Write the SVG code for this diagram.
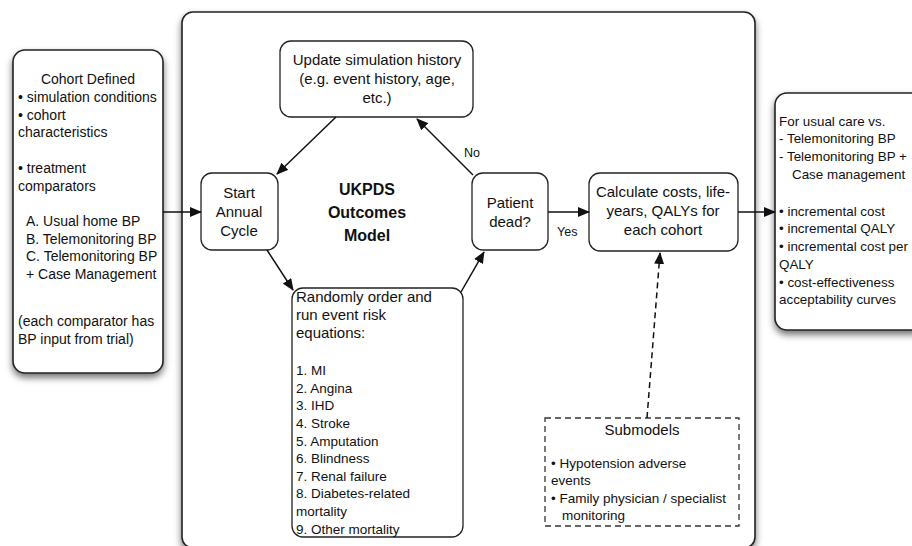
<svg xmlns="http://www.w3.org/2000/svg" width="912" height="546" viewBox="0 0 912 546">
<defs>
<style>
text{font-family:"Liberation Sans",Arial,Helvetica,sans-serif;fill:#111}
.box{fill:#fff;stroke:#222;stroke-width:1.6}
.node{fill:#fff;stroke:#222;stroke-width:1.3}
.t14{font-size:14px}
.tr{font-size:13.4px}
.t15{font-size:15px}
.t13{font-size:13.5px}
.lbl{font-size:12.5px}
.c{text-anchor:middle}
.edge{stroke:#111;stroke-width:1.5;fill:none}
.dash{stroke-dasharray:6,4}
</style>
<filter id="sh" x="-10%" y="-10%" width="125%" height="125%">
<feDropShadow dx="0" dy="4" stdDeviation="3.5" flood-color="#000" flood-opacity="0.55"/>
</filter>
<marker id="ah" viewBox="0 0 12 10" refX="11" refY="5" markerWidth="12" markerHeight="10" markerUnits="userSpaceOnUse" orient="auto">
<path d="M0,0 L12,5 L0,10 Z" fill="#111"/>
</marker>
</defs>

<g id="model-frame">
<rect class="box" x="182" y="12" width="573" height="536" rx="11" filter="url(#sh)"/>
<text class="c" x="367" y="195" style="font-size:16px;font-weight:bold">UKPDS</text>
<text class="c" x="367" y="218" style="font-size:16px;font-weight:bold">Outcomes</text>
<text class="c" x="367" y="241" style="font-size:16px;font-weight:bold">Model</text>
</g>

<g id="cohort">
<rect class="box" x="13" y="50" width="150" height="323" rx="12" filter="url(#sh)"/>
<text class="t14 c" x="88" y="84">Cohort Defined</text>
<text class="t14" x="18" y="102">• simulation conditions</text>
<text class="t14" x="18" y="120">• cohort</text>
<text class="t14" x="18" y="137">characteristics</text>
<text class="t14" x="18" y="173">• treatment</text>
<text class="t14" x="18" y="191">comparators</text>
<text class="t14" x="26" y="226">A. Usual home BP</text>
<text class="t14" x="26" y="244">B. Telemonitoring BP</text>
<text class="t14" x="26" y="261">C. Telemonitoring BP</text>
<text class="t14" x="26" y="279">+ Case Management</text>
<text class="t14" x="18" y="326">(each comparator has</text>
<text class="t14" x="18" y="344">BP input from trial)</text>
</g>

<g id="results">
<rect class="box" x="775" y="93" width="150" height="237" rx="12" filter="url(#sh)"/>
<text class="tr" x="779" y="126">For usual care vs.</text>
<text class="tr" x="779" y="143">- Telemonitoring BP</text>
<text class="tr" x="779" y="161">- Telemonitoring BP +</text>
<text class="tr" x="792" y="179">Case management</text>
<text class="tr" x="779" y="216">• incremental cost</text>
<text class="tr" x="779" y="233">• incremental QALY</text>
<text class="tr" x="779" y="251">• incremental cost per</text>
<text class="tr" x="779" y="269">QALY</text>
<text class="tr" x="779" y="287">• cost-effectiveness</text>
<text class="tr" x="779" y="304">acceptability curves</text>
</g>

<g id="update">
<rect class="node" x="280" y="41" width="193" height="76" rx="11"/>
<text class="t15 c" x="377" y="65">Update simulation history</text>
<text class="t15 c" x="377" y="84">(e.g. event history, age,</text>
<text class="t15 c" x="377" y="103">etc.)</text>
</g>

<g id="start">
<rect class="node" x="201" y="173" width="77" height="77" rx="11"/>
<text class="t15 c" x="239" y="198">Start</text>
<text class="t15 c" x="239" y="217">Annual</text>
<text class="t15 c" x="239" y="236">Cycle</text>
</g>

<g id="patient">
<rect class="node" x="472" y="173" width="76" height="77" rx="11"/>
<text class="t15 c" x="510" y="208">Patient</text>
<text class="t15 c" x="510" y="227">dead?</text>
</g>

<g id="calculate">
<rect class="node" x="589" y="173" width="149" height="78" rx="11"/>
<text class="t15 c" x="663" y="197">Calculate costs, life-</text>
<text class="t15 c" x="663" y="216">years, QALYs for</text>
<text class="t15 c" x="663" y="235">each cohort</text>
</g>

<g id="risk-equations">
<rect class="node" x="292" y="288" width="171" height="249" rx="11"/>
<text class="t15" x="296" y="302">Randomly order and</text>
<text class="t15" x="296" y="320">run event risk</text>
<text class="t15" x="296" y="338">equations:</text>
<text class="t13" x="296" y="375">1. MI</text>
<text class="t13" x="296" y="393">2. Angina</text>
<text class="t13" x="296" y="410">3. IHD</text>
<text class="t13" x="296" y="428">4. Stroke</text>
<text class="t13" x="296" y="446">5. Amputation</text>
<text class="t13" x="296" y="463">6. Blindness</text>
<text class="t13" x="296" y="481">7. Renal failure</text>
<text class="t13" x="296" y="498">8. Diabetes-related</text>
<text class="t13" x="296" y="516">mortality</text>
<text class="t13" x="296" y="534">9. Other mortality</text>
</g>

<g id="submodels">
<rect x="545" y="418" width="194" height="108" fill="#fff" stroke="#333" stroke-width="1.3" stroke-dasharray="6,4"/>
<text class="t15 c" x="642" y="435">Submodels</text>
<text class="t13" x="551" y="468">• Hypotension adverse</text>
<text class="t13" x="551" y="485">events</text>
<text class="t13" x="551" y="503">• Family physician / specialist</text>
<text class="t13" x="562" y="520">monitoring</text>
</g>

<g id="connectors">
<line class="edge" x1="163" y1="212" x2="201" y2="212" marker-end="url(#ah)"/>
<line class="edge" x1="336" y1="117" x2="277" y2="174" marker-end="url(#ah)"/>
<line class="edge" x1="267" y1="250" x2="293" y2="290" marker-end="url(#ah)"/>
<line class="edge" x1="461" y1="292" x2="484" y2="252" marker-end="url(#ah)"/>
<line class="edge" x1="473" y1="175" x2="417" y2="119" marker-end="url(#ah)"/>
<line class="edge" x1="548" y1="212" x2="589" y2="212" marker-end="url(#ah)"/>
<line class="edge" x1="738" y1="212" x2="775" y2="212" marker-end="url(#ah)"/>
<line class="edge dash" x1="647" y1="418" x2="660" y2="253" marker-end="url(#ah)"/>
<text class="lbl" x="464" y="157">No</text>
<text class="lbl" x="557" y="236">Yes</text>
</g>
</svg>
